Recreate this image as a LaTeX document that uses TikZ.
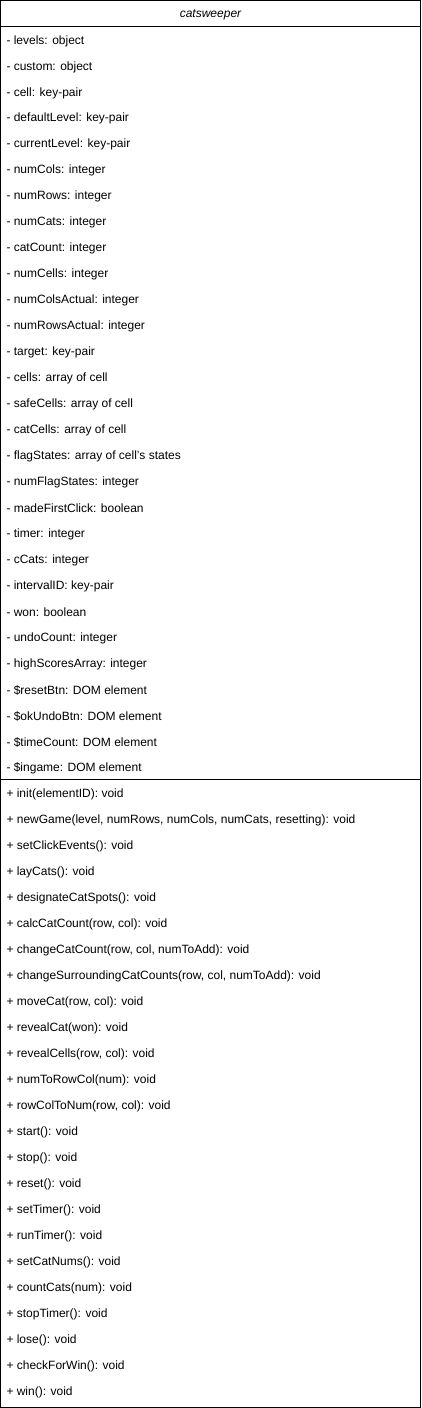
\documentclass[tikz,border=0pt]{standalone}
\usepackage{fontspec}
\setmainfont{Liberation Sans}
\begin{document}
\begin{tikzpicture}[x=1pt,y=-1pt,line width=1pt,
  member/.style={anchor=west,inner sep=0pt,font=\fontsize{12}{14}\selectfont},
  classtitle/.style={inner sep=0pt,font=\fontsize{12}{14}\selectfont\itshape}]
\useasboundingbox (0,0) rectangle (421,1408);
\draw (0.5,0.5) rectangle (420.5,1407.5);
\coordinate (h1) at (0.5,26.5);
\coordinate (h2) at (420.5,26.5);
\coordinate (d1) at (0.5,779);
\coordinate (d2) at (420.5,779);
\draw (h1) -- (h2);
\draw (d1) -- (d2);
\node[classtitle] (title) at (210.5,14.5) {catsweeper};
\foreach [count=\i] \t in {
  {- levels: object},
  {- custom: object},
  {- cell: key-pair},
  {- defaultLevel: key-pair},
  {- currentLevel: key-pair},
  {- numCols: integer},
  {- numRows: integer},
  {- numCats: integer},
  {- catCount: integer},
  {- numCells: integer},
  {- numColsActual: integer},
  {- numRowsActual: integer},
  {- target: key-pair},
  {- cells: array of cell},
  {- safeCells: array of cell},
  {- catCells: array of cell},
  {- flagStates: array of cell's states},
  {- numFlagStates: integer},
  {- madeFirstClick: boolean},
  {- timer: integer},
  {- cCats: integer},
  {- intervalID: key-pair},
  {- won: boolean},
  {- undoCount: integer},
  {- highScoresArray: integer},
  {- \$resetBtn: DOM element},
  {- \$okUndoBtn: DOM element},
  {- \$timeCount: DOM element},
  {- \$ingame: DOM element}}
  \node[member] (a\i) at (6,{41+(\i-1)*25.964}) {\t};
\foreach [count=\i] \t in {
  {+ init(elementID): void},
  {+ newGame(level, numRows, numCols, numCats, resetting): void},
  {+ setClickEvents(): void},
  {+ layCats(): void},
  {+ designateCatSpots(): void},
  {+ calcCatCount(row, col): void},
  {+ changeCatCount(row, col, numToAdd): void},
  {+ changeSurroundingCatCounts(row, col, numToAdd): void},
  {+ moveCat(row, col): void},
  {+ revealCat(won): void},
  {+ revealCells(row, col): void},
  {+ numToRowCol(num): void},
  {+ rowColToNum(row, col): void},
  {+ start(): void},
  {+ stop(): void},
  {+ reset(): void},
  {+ setTimer(): void},
  {+ runTimer(): void},
  {+ setCatNums(): void},
  {+ countCats(num): void},
  {+ stopTimer(): void},
  {+ lose(): void},
  {+ checkForWin(): void},
  {+ win(): void}}
  \node[member] (m\i) at (6,{794+(\i-1)*26}) {\t};
\end{tikzpicture}
\end{document}
